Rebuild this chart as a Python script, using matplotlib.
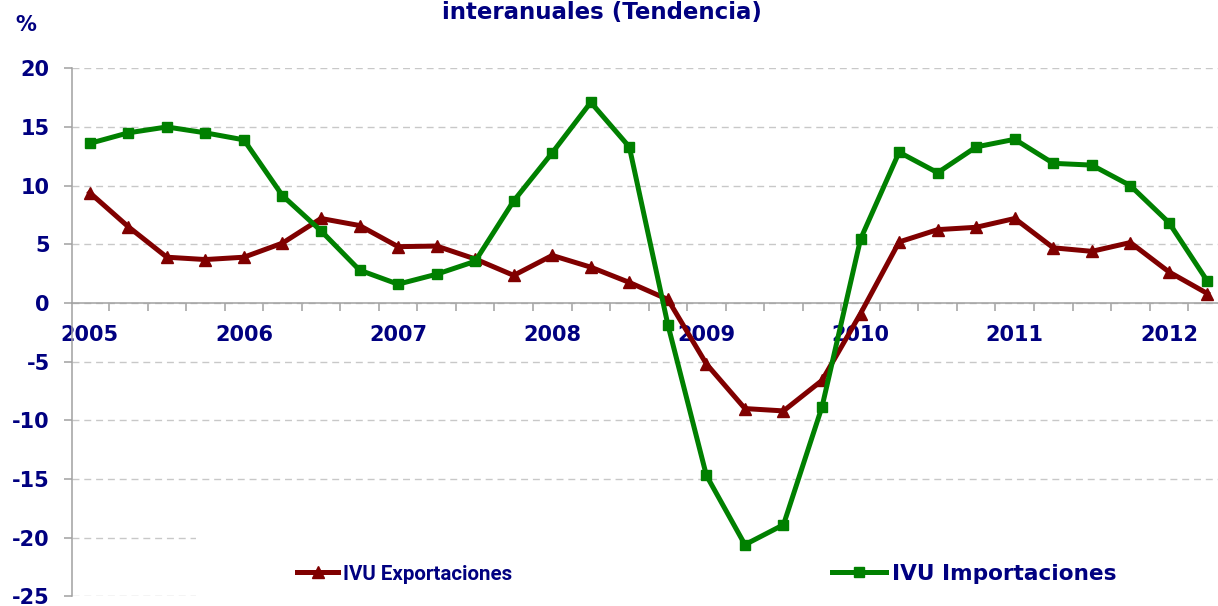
import matplotlib
matplotlib.use("Agg")
import matplotlib.pyplot as plt
from matplotlib.patches import Rectangle
from matplotlib.font_manager import FontProperties
from matplotlib.ticker import FixedLocator, NullFormatter

# ---- data (quarterly, 2005Q1 .. 2012Q2) ----
years = ['2005', '2006', '2007', '2008', '2009', '2010', '2011', '2012']
exports = [9.4, 6.5, 3.9, 3.7, 3.9, 5.1, 7.2, 6.6, 4.8, 4.85,
           3.75, 2.35, 4.05, 3.05, 1.75, 0.3, -5.2, -9.0, -9.2, -6.6,
           -0.9, 5.2, 6.25, 6.45, 7.2, 4.7, 4.4, 5.15, 2.65, 0.8]
imports = [13.6, 14.5, 15.0, 14.5, 13.9, 9.15, 6.15, 2.8, 1.6, 2.45,
           3.55, 8.7, 12.8, 17.1, 13.3, -1.85, -14.7, -20.6, -18.9, -8.85,
           5.45, 12.85, 11.1, 13.3, 13.95, 11.9, 11.75, 10.0, 6.85, 1.85]
label_exp = 'IVU Exportaciones'
label_imp = 'IVU Importaciones'
title_text = 'interanuales (Tendencia)'
y_ticks = [-25, -20, -15, -10, -5, 0, 5, 10, 15, 20]

NAVY = '#000080'
RED = '#800000'
GREEN = '#008000'
GRAY = '#a0a0a0'

W, H = 1218, 606
fig = plt.figure(figsize=(W / 100, H / 100), dpi=100)
ax = fig.add_axes([72 / W, (H - 596.3) / H, 1174 / W, (596.3 - 68.3) / H])

n = len(exports)
x = list(range(n))

ax.set_xlim(-0.46, 30.0)
ax.set_ylim(-25, 20)

# spines
for s in ['top', 'right']:
    ax.spines[s].set_visible(False)
ax.spines['bottom'].set_position(('data', 0))
ax.spines['bottom'].set_color(GRAY)
ax.spines['left'].set_color(GRAY)
ax.spines['bottom'].set_linewidth(1.1)
ax.spines['left'].set_linewidth(1.1)

# grid
ax.set_axisbelow(True)
ax.set_yticks(y_ticks)
ax.yaxis.grid(True, color='#c8c8c8', linestyle=(0, (5, 3.5)), linewidth=1.0)
ax.xaxis.grid(False)

tick_font = dict(family='DejaVu Sans', weight='bold', size=15)
ax.set_yticklabels([str(v) for v in y_ticks], fontdict=tick_font, color=NAVY)
ax.tick_params(axis='y', direction='out', length=6, width=1.1, color=GRAY, pad=10)

# x: boundary ticks (major) without labels, year labels as minor ticks
ax.xaxis.set_major_locator(FixedLocator([k + 0.5 for k in range(-1, n)]))
ax.xaxis.set_major_formatter(NullFormatter())
ax.tick_params(axis='x', which='major', direction='out', length=6, width=1.1, color=GRAY)
year_pos = [4 * i for i in range(len(years))]
ax.xaxis.set_minor_locator(FixedLocator(year_pos))
ax.set_xticklabels(years, minor=True, fontdict=tick_font, color=NAVY)
ax.tick_params(axis='x', which='minor', length=0, pad=16)

# white legend area hiding gridlines
ax.add_patch(Rectangle((2.76, -26), 40, 7.0, facecolor='white', edgecolor='none', zorder=1))

l_exp, = ax.plot(x, exports, color=RED, lw=3.6, marker='^', ms=8.5,
                 mec=RED, mfc=RED, zorder=3, solid_joinstyle='round')
l_imp, = ax.plot(x, imports, color=GREEN, lw=3.6, marker='s', ms=7,
                 mec=GREEN, mfc=GREEN, zorder=4, solid_joinstyle='round')

leg1 = ax.legend(handles=[l_exp], labels=[label_exp], loc='center left',
                 bbox_to_anchor=(297 / W, 1 - 574 / H), bbox_transform=fig.transFigure,
                 frameon=False, borderpad=0, borderaxespad=0, handlelength=2.0,
                 handletextpad=0.25, numpoints=1,
                 prop=FontProperties(family='Roboto', weight='bold', size=14.8),
                 labelcolor=NAVY)
ax.add_artist(leg1)
leg2 = ax.legend(handles=[l_imp], labels=[label_imp], loc='center left',
                 bbox_to_anchor=(832 / W, 1 - 574 / H), bbox_transform=fig.transFigure,
                 frameon=False, borderpad=0, borderaxespad=0, handlelength=2.5,
                 handletextpad=0.25, numpoints=1,
                 prop=FontProperties(family='DejaVu Sans', weight='bold', size=15.6),
                 labelcolor=NAVY)

fig.text(602 / W, 1 - 19 / H, title_text, ha='center', va='baseline',
         fontsize=16.5, fontweight='bold', color=NAVY, family='DejaVu Sans')
fig.text(26 / W, 1 - 25 / H, '%', ha='center', va='center',
         fontsize=15, fontweight='bold', color=NAVY, family='DejaVu Sans')

fig.savefig('out.png', dpi=100)
